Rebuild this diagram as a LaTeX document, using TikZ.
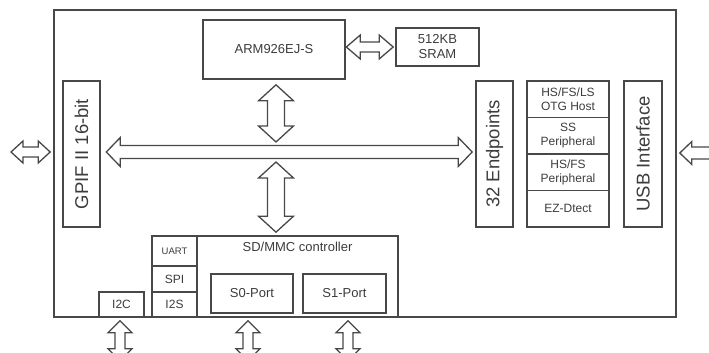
\documentclass[tikz,border=0pt]{standalone}
\usepackage{fontspec}
\setmainfont{Liberation Sans}
\usetikzlibrary{calc}

\definecolor{lngray}{HTML}{484848}
\definecolor{txgray}{HTML}{3C3C3C}

% hollow double block arrows: #1 start, #2 end, #3 head half, #4 shaft half, #5 head length
\newcommand{\hblkarrow}[5]{%
  \draw[blk] let \p1=(#1), \p2=(#2) in
    (\x1,\y1) -- (\x1+#5pt,\y1+#3pt) -- (\x1+#5pt,\y1+#4pt) -- (\x2-#5pt,\y1+#4pt)
    -- (\x2-#5pt,\y1+#3pt) -- (\x2,\y1) -- (\x2-#5pt,\y1-#3pt) -- (\x2-#5pt,\y1-#4pt)
    -- (\x1+#5pt,\y1-#4pt) -- (\x1+#5pt,\y1-#3pt) -- cycle;}
\newcommand{\vblkarrow}[5]{%
  \draw[blk] let \p1=(#1), \p2=(#2) in
    (\x1,\y1) -- (\x1+#3pt,\y1-#5pt) -- (\x1+#4pt,\y1-#5pt) -- (\x1+#4pt,\y2+#5pt)
    -- (\x1+#3pt,\y2+#5pt) -- (\x1,\y2) -- (\x1-#3pt,\y2+#5pt) -- (\x1-#4pt,\y2+#5pt)
    -- (\x1-#4pt,\y1-#5pt) -- (\x1-#3pt,\y1-#5pt) -- cycle;}

\tikzset{
  blk/.style={draw=lngray, line width=1.3pt, fill=white, line join=miter},
  box/.style={draw=lngray, line width=1.6pt, inner sep=0pt, text=txgray, align=center},
  bigtxt/.style={text=txgray, font=\fontsize{18.5}{20}\selectfont},
}

\begin{document}
\begin{tikzpicture}[x=1pt, y=1pt, font=\fontsize{13}{15}\selectfont]
  \clip (0,0) rectangle (709,353);
  % chip outline
  \node[box, minimum width=622pt, minimum height=307pt] (chip) at (365,189.5) {};
  % cpu and memory
  \node[box, minimum width=142pt, minimum height=59pt] (arm) at (274,303.5) {ARM926EJ-S};
  \node[box, minimum width=83pt, minimum height=38pt] (sram) at (437.5,306) {512KB\\SRAM};
  % vertical blocks
  \node[box, minimum width=37pt, minimum height=146pt] (gpif) at (81.5,199) {};
  \node[bigtxt, rotate=90] (gpiftxt) at (gpif) {GPIF II 16-bit};
  \node[box, minimum width=37pt, minimum height=146pt] (ep) at (494.5,199) {};
  \node[bigtxt, rotate=90] (eptxt) at (ep) {32 Endpoints};
  \node[box, minimum width=38pt, minimum height=146pt] (usbif) at (643,199) {};
  \node[bigtxt, rotate=90] (usbiftxt) at (usbif) {USB Interface};
  % usb stack
  \foreach \t [count=\n] in {{HS/FS/LS\\OTG Host},{SS\\Peripheral},{HS/FS\\Peripheral},{EZ-Dtect}} {
    \node[box, minimum width=82pt, minimum height=36.5pt, font=\fontsize{12}{14}\selectfont] (usb\n) at (568,290.25-\n*36.5) {\t};
  }
  % serial ports
  \foreach \t/\yc/\h/\fs [count=\n] in {UART/102/30/9.5, SPI/74/26/12, I2S/48.5/25/12} {
    \node[box, minimum width=45pt, minimum height=\h, font=\fontsize{\fs}{\fs}\selectfont] (ser\n) at (174.5,\yc) {\t};
  }
  \node[box, minimum width=45pt, minimum height=25pt, font=\fontsize{12}{12}\selectfont] (i2c) at (121.5,48.5) {I2C};
  % sd/mmc
  \node[box, minimum width=201pt, minimum height=81pt] (sd) at (297.5,76.5) {};
  \node[text=txgray] (sdtxt) at ($(sd.north)+(0,-12)$) {SD/MMC controller};
  \node[box, minimum width=82pt, minimum height=39pt] (s0) at (252,59.5) {S0-Port};
  \node[box, minimum width=83pt, minimum height=39pt] (s1) at (344.5,59.5) {S1-Port};

  \coordinate (bus) at (276,201);
  \coordinate (extL) at (11,201);
  \coordinate (extR) at (745,200);

  % arrows
  \hblkarrow{extL}{$(chip.west)+(-3,11.5)$}{11}{5}{12}
  \hblkarrow{$(gpif.east)+(5.5,2)$}{$(ep.west)+(-3,0)$}{14.5}{6.5}{14}
  \hblkarrow{$(arm.east)+(0.5,2.5)$}{$(sram.west)+(-2,0)$}{12}{5}{14}
  \hblkarrow{$(chip.east)+(3,10.5)$}{extR}{11.5}{6}{12}
  \vblkarrow{$(arm.south)+(2,-5)$}{$(bus)+(0,10)$}{17.5}{8.5}{16}
  \vblkarrow{$(bus)+(0,-10)$}{$(sd.north)+(0,3)$}{17.5}{8.5}{16}
  \foreach \c/\dx in {i2c/-1.5, s0/-4, s1/3.5} {
    \vblkarrow{$(\c.south |- chip.south)+(\dx,-3)$}{$(\c.south |- chip.south)+(\dx,-43)$}{12}{5}{12}
  }
\end{tikzpicture}
\end{document}
